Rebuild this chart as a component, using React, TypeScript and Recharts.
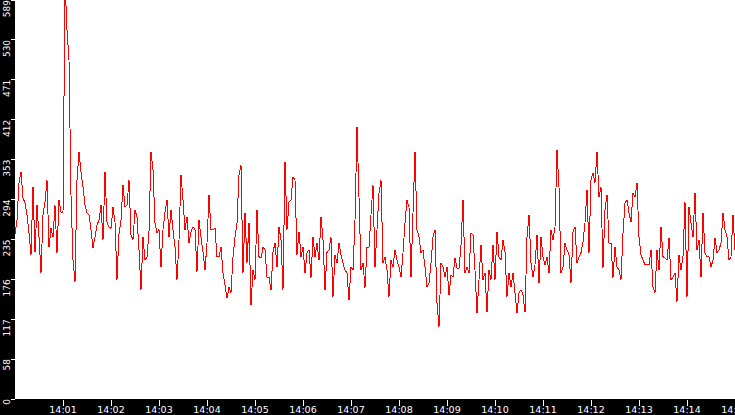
import { LineChart, Line, XAxis, YAxis, CartesianGrid } from "recharts";

// samples per minute, every 2.5 s
const min00 = [244, 264, 319, 335, 297, 289, 272, 245, 213, 313, 217, 286, 239, 186, 272, 291, 323, 224, 252, 239, 286, 216, 294, 276];
const min01 = [275, 615, 545, 500, 301, 205, 173, 323, 365, 335, 313, 286, 275, 272, 250, 223, 239, 257, 264, 286, 235, 335, 261, 254];
const min02 = [252, 283, 261, 176, 244, 264, 316, 283, 286, 323, 242, 235, 279, 269, 220, 161, 239, 205, 210, 247, 365, 338, 260, 245];
const min03 = [250, 195, 250, 276, 294, 239, 279, 250, 224, 176, 235, 331, 294, 250, 269, 230, 247, 254, 250, 188, 264, 239, 217, 190];
const min04 = [230, 301, 250, 250, 252, 210, 210, 224, 186, 168, 149, 165, 157, 210, 239, 260, 331, 345, 186, 275, 201, 260, 139, 190];
const min05 = [176, 279, 210, 208, 224, 220, 180, 180, 161, 217, 230, 195, 254, 235, 161, 350, 250, 291, 294, 328, 323, 213, 247, 210];
const min06 = [224, 186, 216, 220, 179, 239, 210, 230, 205, 269, 235, 161, 216, 220, 239, 151, 213, 201, 230, 213, 201, 190, 186, 146];
const min07 = [195, 190, 264, 402, 298, 190, 201, 164, 224, 224, 272, 316, 195, 250, 304, 323, 201, 210, 190, 151, 205, 195, 220, 205];
const min08 = [195, 180, 216, 260, 294, 283, 180, 275, 365, 250, 239, 216, 220, 195, 165, 171, 201, 239, 250, 142, 106, 201, 195, 180];
const min09 = [195, 154, 183, 180, 208, 193, 193, 227, 294, 186, 195, 186, 245, 242, 190, 127, 176, 227, 176, 186, 128, 190, 176, 227];
const min10 = [176, 247, 210, 205, 235, 217, 151, 186, 165, 186, 157, 127, 157, 161, 154, 128, 239, 272, 201, 180, 198, 242, 171, 239];
const min11 = [210, 198, 210, 186, 250, 235, 254, 368, 313, 186, 195, 230, 220, 213, 171, 247, 254, 201, 210, 216, 232, 260, 309, 216];
const min12 = [323, 334, 319, 365, 298, 313, 193, 279, 301, 230, 230, 179, 224, 195, 190, 176, 245, 289, 294, 275, 261, 304, 298, 319];
const min13 = [239, 213, 205, 198, 198, 198, 220, 165, 157, 220, 190, 254, 210, 208, 205, 238, 176, 180, 186, 143, 213, 190, 210, 291];
const min14 = [151, 283, 260, 239, 304, 220, 235, 180, 275, 216, 210, 210, 195, 205, 238, 216, 220, 230, 275, 250, 239, 205, 210, 272, 220];

const minutes = [min00, min01, min02, min03, min04, min05, min06, min07, min08, min09, min10, min11, min12, min13, min14];

const xTickLabels = ["14:01", "14:02", "14:03", "14:04", "14:05", "14:06", "14:07", "14:08", "14:09", "14:10", "14:11", "14:12", "14:13", "14:14", "14:15"];
const yTickValues = [0, 58.9, 117.8, 176.7, 235.6, 294.5, 353.4, 412.3, 471.2, 530.1, 589];

const STEP = 2.5; // seconds between samples

const data = minutes.flatMap((vals, m) =>
  vals.map((v, j) => ({ t: m * 60 + j * STEP, v }))
);

const xTicks = xTickLabels.map((_, i) => (i + 1) * 60);
const xLabel = (t: number) => xTickLabels[t / 60 - 1];

const XTick = (props: any) => {
  const { x, payload } = props;
  return (
    <g>
      <line x1={x} x2={x} y1={400} y2={406} stroke="#fff" shapeRendering="crispEdges" />
      <text x={x} y={413} textAnchor="middle" fill="#fff" fontSize={9.5} fontFamily="DejaVu Sans">
        {xLabel(payload.value)}
      </text>
    </g>
  );
};

const YTick = (props: any) => {
  const { y, payload } = props;
  return (
    <g>
      <line x1={11} x2={15} y1={y} y2={y} stroke="#fff" shapeRendering="crispEdges" />
      <text
        x={10}
        y={y}
        transform={`rotate(-90 10 ${y})`}
        textAnchor="end"
        fill="#fff"
        fontSize={9}
        fontFamily="DejaVu Sans"
      >
        {Math.floor(payload.value)}
      </text>
    </g>
  );
};

export default function App() {
  return (
    <div style={{ width: 735, height: 415, background: "#000" }}>
      <style>{"body{margin:0}"}</style>
      <LineChart width={735} height={415} data={data} margin={{ top: 0, right: 0, bottom: 0, left: 0 }}>
        <CartesianGrid fill="#fff" horizontal={false} vertical={false} />
        <XAxis
          type="number"
          dataKey="t"
          domain={[0, 900]}
          ticks={xTicks}
          interval={0}
          height={16}
          axisLine={false}
          tickLine={false}
          tick={<XTick />}
          allowDataOverflow
        />
        <YAxis
          type="number"
          domain={[0, 589]}
          ticks={yTickValues}
          interval={0}
          width={15}
          axisLine={false}
          tickLine={false}
          tick={<YTick />}
          allowDataOverflow
        />
        <Line
          type="linear"
          dataKey="v"
          stroke="#ff0000"
          strokeWidth={1}
          dot={false}
          activeDot={false}
          isAnimationActive={false}
          shapeRendering="crispEdges"
        />
      </LineChart>
    </div>
  );
}
